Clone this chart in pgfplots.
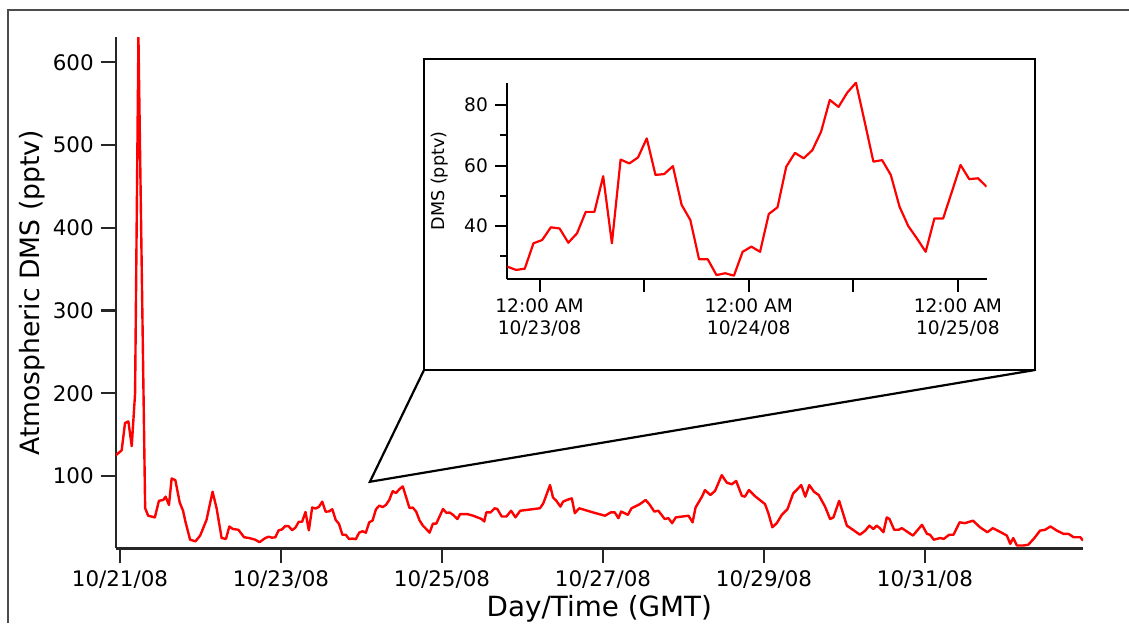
\documentclass[border=0pt]{standalone}
\usepackage{pgfplots}
\pgfplotsset{compat=1.18}
\usepackage{pgfplotstable}
\usepackage{fontspec}
\setmainfont{DejaVu Sans}

% Atmospheric DMS, hours after 10/21/08 00:00 GMT
\pgfplotstableread{
h v
-1.28 125
0.5 131
1.5 164
2.5 166
3.5 136
4.5 200
5.5 630
7.5 61
8.4 52
10.4 50
11.6 70
12.9 71
13.6 75
14.6 65
15.4 97
16.5 95
17.8 68
18.8 58
19.5 45
20.9 23
22.5 21
23.9 28
25.8 47
27.6 81
28.8 61
30.3 25
31.6 24
32.6 39
33.6 36
35.3 35
37.0 26
38.5 25
40.3 23
41.6 20
43.3 25
44.3 26.6
45.3 25.5
46.3 25.9
47.3 34.3
48.3 35.4
49.3 39.6
50.3 39.2
51.3 34.5
52.3 37.6
53.3 44.7
54.3 44.7
55.3 56.5
56.3 34.3
57.3 62.0
58.3 60.7
59.3 62.7
60.3 69.0
61.3 56.9
62.3 57.2
63.3 59.8
64.3 47.0
65.3 42.0
66.3 29.0
67.3 29.0
68.3 23.8
69.3 24.4
70.3 23.6
71.3 31.5
72.3 33.2
73.3 31.5
74.3 44.0
75.3 46.2
76.3 59.6
77.3 64.2
78.3 62.4
79.3 65.1
80.3 71.2
81.3 81.7
82.3 79.4
83.3 84.1
84.3 87.4
85.3 74.5
86.3 61.3
87.3 61.8
88.3 56.9
89.3 46.4
90.3 40.0
91.3 35.9
92.3 31.5
93.3 42.5
94.3 42.5
95.3 51.3
96.3 60.2
97.3 55.5
98.3 55.8
99.3 53.0
100.6 48
101.4 54
103.5 54
105.3 52
107.8 48
108.6 45
109.2 56
110.5 56
111.7 61
112.5 60
113.8 51
115.2 51
116.6 58
117.9 50
119.3 58
125.2 61
126.2 67
128.2 89
129.1 74
130.1 70
131.3 63
132.1 69
133.2 71
134.7 73
135.6 55
136.9 61
141.0 56
144.6 52
146.3 56
147.5 56
148.6 49
149.4 57
150.5 55
151.4 53
152.5 61
155.0 66
156.7 71
157.8 66
159.3 57
160.5 58
162.4 48
163.5 49
164.6 43
165.7 50
169.5 52
170.7 44
171.6 62
173.5 75
174.4 83
176.0 77
177.4 82
179.4 101
180.9 92
182.4 90
183.7 94
185.4 76
186.3 75
187.5 83
189.5 75
192.3 66
193.3 55
194.5 38
195.8 43
197.3 53
199.0 60
200.7 79
201.7 83
203.1 89
204.3 75
205.5 89
206.9 81
208.3 77
210.2 63
211.7 48
212.7 50
214.4 70
216.7 40
218.5 35
220.6 29
222.2 34
223.4 40
224.6 36
225.6 40
226.5 37
227.6 32
228.6 50
229.4 48
230.8 35
232.1 35
233.1 37
236.4 28
239.1 41
240.6 30
241.5 29
242.6 23
244.5 25
245.6 24
247.2 29
248.5 29
250.3 44
251.9 43
254.3 46
256.4 38
258.6 32
260.2 37
262.6 32
264.4 28
265.4 18
266.3 25
267.4 16
269.3 16
270.8 17
272.6 25
274.3 34
275.8 35
277.4 39
279.3 34
281.3 30
282.8 30
284.3 26
286.3 26
287.1 22
}\dmsdata

\begin{document}
\begin{tikzpicture}
\useasboundingbox (0,0) rectangle (564.5pt,311.5pt);
% plate border
\draw[black!70, line width=1pt] (4pt,0pt) -- (4pt,306.5pt) -- (564.5pt,306.5pt);

\begin{axis}[
  at={(57.85pt,37.35pt)}, anchor=south west,
  scale only axis, width=483.65pt, height=255.5pt,
  xmin=-1.28, xmax=287.1, ymin=12.6, ymax=630.2,
  axis x line*=bottom, axis y line*=left,
  axis line style={line width=1.2pt, black!85},
  tick align=outside, major tick length=7.5pt,
  tick style={line width=1.2pt, black!85},
  xtick={0,48,96,144,192,240},
  xticklabels={10/21/08,10/23/08,10/25/08,10/27/08,10/29/08,10/31/08},
  ytick={100,200,300,400,500,600},
  minor tick num=0,
  tick label style={font=\fontsize{10.7}{12.8}\selectfont},
  /pgf/number format/assume math mode=true,
  xlabel={Day/Time (GMT)},
  ylabel={Atmospheric DMS (pptv)},
  ylabel style={font=\fontsize{13.3}{16}\selectfont, at={(axis description cs:-0.079,0.5)}, anchor=base},
  xlabel style={font=\fontsize{13.9}{16}\selectfont, at={(axis description cs:0.5,-0.134)}, anchor=base},
]
\addplot[red, line width=1.2pt, line join=round] table[x=h, y=v] {\dmsdata};
\coordinate (apex) at (axis cs:74.5,93);
\end{axis}

% zoom callout
\draw[black, line width=1.1pt, fill=white] (212pt,126.5pt) rectangle (517.5pt,282pt);
\draw[black, line width=1.1pt] (212pt,126.5pt) -- (apex) -- (517.5pt,126.5pt);

\begin{axis}[
  at={(253.65pt,171.85pt)}, anchor=south west,
  scale only axis, width=239.7pt, height=98.3pt,
  xmin=44.3, xmax=99.3, ymin=22.4, ymax=87.4,
  axis x line*=bottom, axis y line*=left,
  axis line style={line width=1pt, black},
  tick align=outside, major tick length=6.2pt, minor tick length=3.6pt,
  tick style={line width=1pt, black},
  xtick={48,60,72,84,96},
  xticklabels={{12:00 AM\\10/23/08},{},{12:00 AM\\10/24/08},{},{12:00 AM\\10/25/08}},
  xticklabel style={align=center},
  ytick={40,60,80}, minor ytick={30,50,70},
  tick label style={font=\fontsize{9.3}{10.8}\selectfont},
  /pgf/number format/assume math mode=true,
  ylabel={DMS (pptv)},
  ylabel style={font=\fontsize{8.8}{10}\selectfont, at={(axis description cs:-0.132,0.5)}, anchor=base},
]
\addplot[red, line width=1.1pt, line join=round, restrict x to domain=44:99.5] table[x=h, y=v] {\dmsdata};
\end{axis}
\end{tikzpicture}
\end{document}
